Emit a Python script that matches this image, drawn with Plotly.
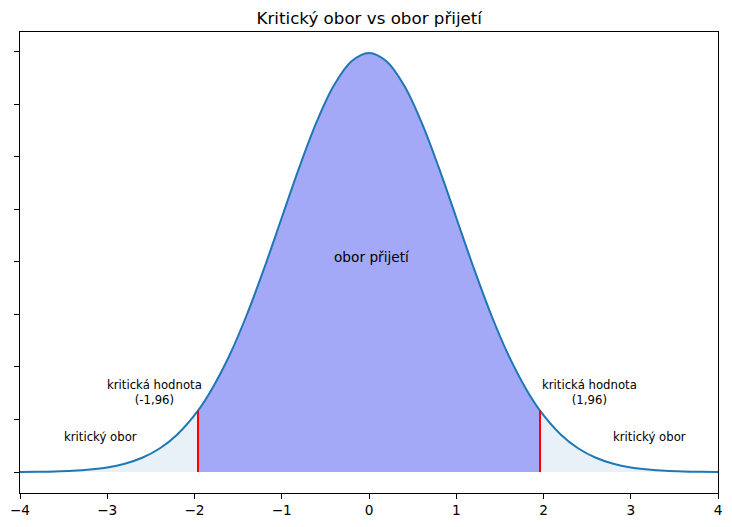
import plotly.graph_objects as go

# Standard normal density read at sample points
x_vals = [-4.0, -3.8, -3.6, -3.4, -3.2, -3.0, -2.8, -2.6, -2.4, -2.2, -1.96,
          -1.8, -1.6, -1.4, -1.2, -1.0, -0.8, -0.6, -0.4, -0.2, 0.0,
          0.2, 0.4, 0.6, 0.8, 1.0, 1.2, 1.4, 1.6, 1.8,
          1.96, 2.2, 2.4, 2.6, 2.8, 3.0, 3.2, 3.4, 3.6, 3.8, 4.0]
y_vals = [0.0001, 0.0003, 0.0006, 0.0012, 0.0024, 0.0044, 0.0079, 0.0136, 0.0224, 0.0355, 0.0584,
          0.0790, 0.1109, 0.1497, 0.1942, 0.2420, 0.2897, 0.3332, 0.3683, 0.3910, 0.3989,
          0.3910, 0.3683, 0.3332, 0.2897, 0.2420, 0.1942, 0.1497, 0.1109, 0.0790,
          0.0584, 0.0355, 0.0224, 0.0136, 0.0079, 0.0044, 0.0024, 0.0012, 0.0006, 0.0003, 0.0001]
crit_low = -1.96
crit_high = 1.96
x_ticks = [-4, -3, -2, -1, 0, 1, 2, 3, 4]
y_ticks = [0.0, 0.05, 0.10, 0.15, 0.20, 0.25, 0.30, 0.35, 0.40]

def subset(cond):
    xs = [x for x, y in zip(x_vals, y_vals) if cond(x)]
    ys = [y for x, y in zip(x_vals, y_vals) if cond(x)]
    return xs, ys

left_x, left_y = subset(lambda x: x <= crit_low)
mid_x, mid_y = subset(lambda x: crit_low <= x <= crit_high)
right_x, right_y = subset(lambda x: x >= crit_high)
y_low = y_vals[x_vals.index(crit_low)]
y_high = y_vals[x_vals.index(crit_high)]

tail_fill = "rgba(31,119,180,0.10)"
mid_fill = "rgba(80,90,240,0.52)"

fig = go.Figure()
for xs, ys in [(left_x, left_y), (right_x, right_y)]:
    fig.add_trace(go.Scatter(x=xs, y=ys, mode="lines", line=dict(width=0, shape="spline"),
                             fill="tozeroy", fillcolor=tail_fill, hoverinfo="skip", showlegend=False))
fig.add_trace(go.Scatter(x=mid_x, y=mid_y, mode="lines",
                         line=dict(width=0.8, shape="spline", color="rgba(80,90,240,0.55)"),
                         fill="tozeroy", fillcolor=mid_fill, hoverinfo="skip", showlegend=False))
fig.add_trace(go.Scatter(x=x_vals, y=y_vals, mode="lines",
                         line=dict(color="#1f77b4", width=2, shape="spline"), showlegend=False))
for cx, cy in [(crit_low, y_low), (crit_high, y_high)]:
    fig.add_trace(go.Scatter(x=[cx, cx], y=[0, cy], mode="lines",
                             line=dict(color="red", width=2), showlegend=False))

ann_font = dict(family="DejaVu Sans", size=11.7, color="black")
fig.add_annotation(x=0.03, y=0.205, text="obor přijetí", showarrow=False,
                   font=dict(family="DejaVu Sans", size=13.7, color="black"))
fig.add_annotation(x=-2.46, y=0.076, text="kritická hodnota<br>(-1,96)", showarrow=False, font=ann_font)
fig.add_annotation(x=2.53, y=0.076, text="kritická hodnota<br>(1,96)", showarrow=False, font=ann_font)
fig.add_annotation(x=-3.08, y=0.033, text="kritický obor", showarrow=False, font=ann_font)
fig.add_annotation(x=3.21, y=0.033, text="kritický obor", showarrow=False, font=ann_font)

axis_common = dict(showline=True, linecolor="black", linewidth=1, mirror=True, automargin=False,
                   ticks="outside", ticklen=5, tickcolor="black", showgrid=False, zeroline=False)
fig.update_xaxes(range=[-4, 4], tickvals=x_ticks, tickfont=dict(family="DejaVu Sans", size=13.7, color="black"),
                 **axis_common)
fig.update_yaxes(range=[-0.01995, 0.4188], tickvals=y_ticks, showticklabels=False, **axis_common)

fig.update_layout(
    width=732, height=527,
    margin=dict(l=20, r=14, t=32, b=34),
    paper_bgcolor="white", plot_bgcolor="white",
    title=dict(text="Kritický obor vs obor přijetí", x=0.5045, xanchor="center", y=0.965, yanchor="middle",
               font=dict(family="DejaVu Sans", size=16.7, color="black")),
    font=dict(family="DejaVu Sans"),
)

fig.write_html("out.html", config={"displayModeBar": False},
               post_script="document.body.style.margin='0';")
